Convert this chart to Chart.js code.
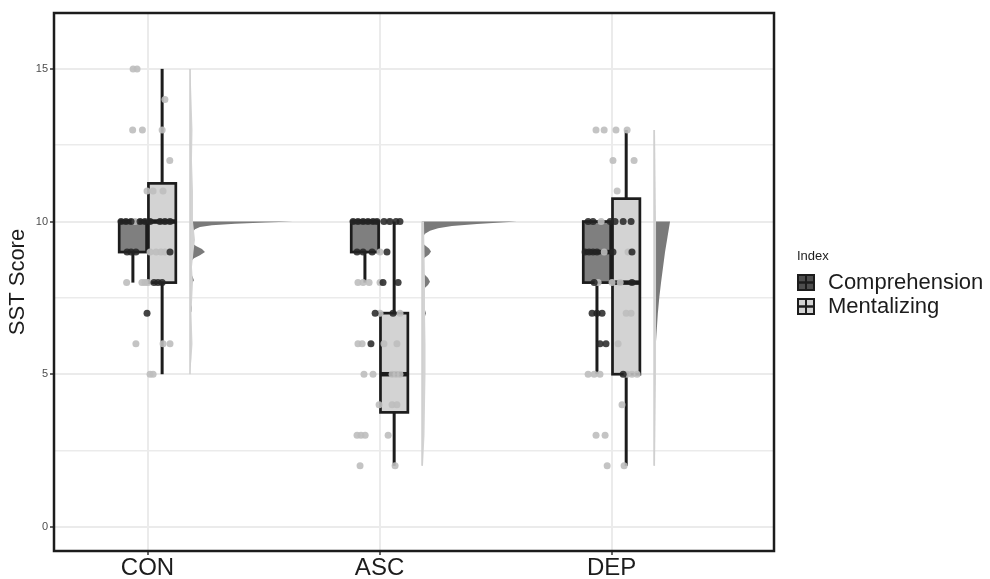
<!DOCTYPE html>
<html>
<head>
<meta charset="utf-8">
<script src="https://cdn.jsdelivr.net/npm/chart.js@4.4.1/dist/chart.umd.min.js"></script>
<style>
  html, body { margin: 0; padding: 0; background: #fff; }
  #wrap { width: 990px; height: 579px; }
</style>
</head>
<body>
<div id="wrap"><canvas id="chart" width="990" height="579"></canvas></div>
<script>
// groups on the x axis and y ticks
const groups = ['CON', 'ASC', 'DEP'];
const yMajor = [0, 5, 10, 15];
const yMinor = [2.5, 7.5, 12.5];
const seriesNames = ['Comprehension', 'Mentalizing'];

// boxplot summaries per group (CON, ASC, DEP)
const compMin = [8, 8, 5];
const compQ1 = [9, 9, 8];
const compMed = [10, 10, 9];
const compQ3 = [10, 10, 10];
const compMax = [10, 10, 10];

const mentMin = [5, 2, 2];
const mentQ1 = [8, 3.75, 5];
const mentMed = [10, 5, 8];
const mentQ3 = [11.25, 7, 10.75];
const mentMax = [15, 10, 13];

// jittered raw scores [x, score]
const conComp = [[0.886,10],[0.907,10],[0.929,10],[0.968,10],[0.989,10],[1.011,10],[1.054,10],[1.075,10],[1.097,10],
  [0.912,9],[0.929,9],[0.950,9],[1.097,9],[1.028,8],[1.045,8],[1.063,8],[0.998,7]];
const conMent = [[0.938,15],[0.955,15],[1.075,14],[0.936,13],[0.978,13],[1.063,13],[1.096,12],[0.998,11],[1.024,11],[1.067,11],
  [0.946,10],[1.011,9],[1.037,9],[1.058,9],[1.075,9],[0.910,8],[0.976,8],[0.989,8],[1.002,8],[0.950,6],[1.067,6],[1.097,6],
  [1.011,5],[1.024,5]];
const ascComp = [[1.886,10],[1.907,10],[1.929,10],[1.950,10],[1.972,10],[1.989,10],[2.019,10],[2.045,10],[2.071,10],[2.088,10],
  [1.903,9],[1.929,9],[1.968,9],[2.032,9],[2.015,8],[2.080,8],[1.981,7],[2.058,7],[1.963,6]];
const ascMent = [[2.037,10],[2.002,9],[1.907,8],[1.929,8],[1.955,8],[2.002,8],[2.002,7],[2.088,7],[1.907,6],[1.925,6],[2.019,6],
  [2.075,6],[1.933,5],[1.972,5],[2.054,5],[2.071,5],[2.088,5],[1.998,4],[2.054,4],[2.075,4],[1.903,3],[1.920,3],[1.938,3],
  [2.037,3],[1.916,2],[2.067,2]];
const depComp = [[2.899,10],[2.920,10],[2.994,10],[3.015,10],[3.050,10],[3.084,10],[2.886,9],[2.903,9],[2.920,9],[2.937,9],
  [3.006,9],[3.088,9],[2.925,8],[3.088,8],[2.916,7],[2.937,7],[2.959,7],[2.950,6],[2.976,6],[3.050,5]];
const depMent = [[2.933,13],[2.968,13],[3.019,13],[3.067,13],[3.006,12],[3.097,12],[3.024,11],[2.955,10],[2.968,9],[3.071,9],
  [2.942,8],[3.002,8],[3.037,8],[3.063,7],[3.084,7],[3.028,6],[2.899,5],[2.925,5],[2.950,5],[3.067,5],[3.088,5],[3.110,5],
  [3.045,4],[2.933,3],[2.972,3],[2.981,2],[3.054,2]];

// half violin outlines [score, width in x units]
const conCompDens = [[6.98,0],[7.05,0.0065],[7.2,0.0078],[7.35,0.0022],[7.5,0],[7.85,0],[7.95,0.0065],[8.08,0.0172],[8.2,0.0108],
  [8.35,0.0022],[8.6,0],[8.7,0.0043],[8.8,0.0172],[8.9,0.0431],[9.0,0.0647],[9.1,0.0517],[9.2,0.0259],[9.3,0.0086],[9.42,0.0022],
  [9.55,0.0052],[9.65,0.0108],[9.75,0.0216],[9.82,0.0431],[9.88,0.0948],[9.93,0.194],[9.97,0.323],[10,0.444]];
const ascCompDens = [[5.95,0],[6.1,0.0022],[6.4,0.0022],[6.65,0],[6.75,0.0043],[6.9,0.0129],[7.0,0.0172],[7.1,0.0129],[7.25,0.0043],
  [7.4,0],[7.7,0],[7.8,0.0086],[7.92,0.0259],[8.03,0.0345],[8.15,0.0259],[8.3,0.0065],[8.45,0],[8.7,0],[8.8,0.0086],[8.92,0.0302],
  [9.02,0.0388],[9.12,0.0302],[9.25,0.0086],[9.4,0],[9.5,0.0043],[9.6,0.0129],[9.7,0.0345],[9.78,0.069],[9.85,0.129],[9.92,0.237],
  [10,0.409]];
const depCompDens = [[5,0],[5.5,0.003],[6,0.0078],[6.5,0.0121],[7,0.0164],[7.5,0.0224],[8,0.0302],[8.5,0.0388],[9,0.0474],
  [9.5,0.0582],[10,0.069]];
const conMentDens = [[5,0],[5.5,0.0065],[6,0.0108],[7,0.0065],[8,0.0129],[8.5,0.0086],[9,0.0151],[9.4,0.0216],[10,0.0129],
  [11,0.0129],[12,0.0086],[13,0.0108],[14,0.0065],[15,0.0022]];
const ascMentDens = [[2,0.0043],[3,0.0108],[4,0.0129],[5,0.0151],[6,0.0151],[7,0.0129],[8,0.0129],[9,0.0108],[10,0.0086]];
const depMentDens = [[2,0.0043],[5,0.0086],[8,0.0086],[10,0.0086],[13,0.0043]];

// layout bits (in x-axis units)
const dodge = 0.063;
const boxWidth = 0.118;
const violinNudge = 0.183;

const compFill = '#7f7f7f';
const mentFill = '#d3d3d3';
const ink = '#1c1c1c';

function toPts(arr) { return arr.map(p => ({ x: p[0], y: p[1] })); }

function hline(ctx, x1, y1, x2, y2) {
  ctx.beginPath(); ctx.moveTo(x1, y1); ctx.lineTo(x2, y2); ctx.stroke();
}

function drawBox(ctx, xs, ys, cx, s, fill) {
  const l = xs.getPixelForValue(cx - boxWidth / 2);
  const r = xs.getPixelForValue(cx + boxWidth / 2);
  const c = xs.getPixelForValue(cx);
  const top = ys.getPixelForValue(s.q3), bot = ys.getPixelForValue(s.q1);
  ctx.strokeStyle = ink;
  ctx.lineWidth = 3;
  if (s.max > s.q3) hline(ctx, c, ys.getPixelForValue(s.max), c, top);
  if (s.min < s.q1) hline(ctx, c, bot, c, ys.getPixelForValue(s.min));
  ctx.fillStyle = fill;
  ctx.fillRect(l, top, r - l, bot - top);
  ctx.lineWidth = 2.7;
  ctx.strokeRect(l, top, r - l, bot - top);
  ctx.lineWidth = 4.5;
  hline(ctx, l, ys.getPixelForValue(s.med), r, ys.getPixelForValue(s.med));
}

function drawHalfViolin(ctx, xs, ys, base, dens, fill, edge) {
  const b = xs.getPixelForValue(base);
  ctx.beginPath();
  ctx.moveTo(b, ys.getPixelForValue(dens[0][0]));
  dens.forEach(([v, w]) => ctx.lineTo(xs.getPixelForValue(base + w), ys.getPixelForValue(v)));
  ctx.lineTo(b, ys.getPixelForValue(dens[dens.length - 1][0]));
  ctx.closePath();
  ctx.fillStyle = fill;
  ctx.fill();
  if (edge) {
    ctx.strokeStyle = edge;
    ctx.lineWidth = 1.5;
    hline(ctx, b, ys.getPixelForValue(dens[0][0]), b, ys.getPixelForValue(dens[dens.length - 1][0]));
  }
}

function drawKey(ctx, x, y, fill) {
  const w = 16, h = 15;
  ctx.fillStyle = fill;
  ctx.fillRect(x, y, w, h);
  ctx.strokeStyle = ink;
  ctx.lineWidth = 2;
  ctx.strokeRect(x, y, w, h);
  ctx.lineWidth = 2.5;
  hline(ctx, x, y + h / 2, x + w, y + h / 2);
  ctx.lineWidth = 2;
  hline(ctx, x + w / 2, y, x + w / 2, y + h);
}

const rainPlugin = {
  id: 'raincloud',
  beforeDatasetsDraw(chart) {
    const { ctx, scales: { x, y } } = chart;
    const compDens = [conCompDens, ascCompDens, depCompDens];
    const mentDens = [conMentDens, ascMentDens, depMentDens];
    ctx.save();
    groups.forEach((g, i) => {
      const base = i + 1 + violinNudge;
      drawHalfViolin(ctx, x, y, base, compDens[i], '#7a7a7a', null);
      drawHalfViolin(ctx, x, y, base, mentDens[i], mentFill, '#cfcfcf');
    });
    groups.forEach((g, i) => {
      drawBox(ctx, x, y, i + 1 - dodge,
        { min: compMin[i], q1: compQ1[i], med: compMed[i], q3: compQ3[i], max: compMax[i] }, compFill);
      drawBox(ctx, x, y, i + 1 + dodge,
        { min: mentMin[i], q1: mentQ1[i], med: mentMed[i], q3: mentQ3[i], max: mentMax[i] }, mentFill);
    });
    ctx.restore();
  },
  afterDraw(chart) {
    const { ctx, chartArea: a } = chart;
    ctx.save();
    // panel border
    ctx.strokeStyle = ink;
    ctx.lineWidth = 2.5;
    ctx.strokeRect(a.left, a.top, a.right - a.left, a.bottom - a.top);

    // legend
    const lx = a.right + 23;
    ctx.fillStyle = ink;
    ctx.font = '13px "Liberation Sans", Arial, sans-serif';
    ctx.textBaseline = 'middle';
    ctx.fillText('Index', lx, 256);
    drawKey(ctx, lx + 1, 275, '#4d4d4d');
    drawKey(ctx, lx + 1, 299, mentFill);
    ctx.fillStyle = ink;
    ctx.font = '22px "Liberation Sans", Arial, sans-serif';
    ctx.fillText(seriesNames[0], lx + 31, 283);
    ctx.fillText(seriesNames[1], lx + 31, 307);
    ctx.restore();
  }
};

const yAll = yMajor.concat(yMinor).sort((p, q) => p - q);

new Chart(document.getElementById('chart').getContext('2d'), {
  type: 'scatter',
  data: {
    datasets: [
      { label: seriesNames[0], data: toPts(conComp.concat(ascComp, depComp)),
        backgroundColor: 'rgba(35,35,35,0.85)', borderWidth: 0, pointRadius: 3.5 },
      { label: seriesNames[1], data: toPts(conMent.concat(ascMent, depMent)),
        backgroundColor: 'rgba(190,190,190,0.9)', borderWidth: 0, pointRadius: 3.5 }
    ]
  },
  options: {
    responsive: false,
    animation: false,
    events: [],
    layout: { padding: { top: 13, right: 216, left: 0, bottom: 0 } },
    plugins: { legend: { display: false }, tooltip: { enabled: false } },
    scales: {
      x: {
        type: 'linear',
        min: 0.597,
        max: 3.70,
        afterBuildTicks: s => { s.ticks = [1, 2, 3].map(v => ({ value: v })); },
        afterFit: s => { s.height = 28; },
        ticks: {
          autoSkip: false, maxRotation: 0, padding: -1,
          color: ink,
          font: { family: '"Liberation Sans", Arial, sans-serif', size: 24 },
          callback: v => groups[v - 1]
        },
        grid: { color: '#ebebeb', lineWidth: 2, tickLength: 4, tickColor: '#333', tickWidth: 1.5 },
        border: { display: false }
      },
      y: {
        type: 'linear',
        min: -0.79,
        max: 16.83,
        afterBuildTicks: s => { s.ticks = yAll.map(v => ({ value: v })); },
        afterFit: s => { s.width = 54; },
        ticks: {
          padding: 2,
          color: '#4d4d4d',
          font: { family: '"Liberation Sans", Arial, sans-serif', size: 11 },
          callback: v => (yMajor.includes(v) ? String(v) : '')
        },
        grid: {
          color: '#ebebeb',
          lineWidth: c => (c.tick && yMajor.includes(c.tick.value) ? 2 : 1.5),
          tickLength: 4,
          tickWidth: 1.5,
          tickColor: c => (c.tick && yMajor.includes(c.tick.value) ? '#333' : 'rgba(0,0,0,0)')
        },
        border: { display: false },
        title: {
          display: true,
          text: 'SST Score',
          color: ink,
          padding: { top: 5, bottom: 0 },
          font: { family: '"Liberation Sans", Arial, sans-serif', size: 22 }
        }
      }
    }
  },
  plugins: [rainPlugin]
});
</script>
</body>
</html>
